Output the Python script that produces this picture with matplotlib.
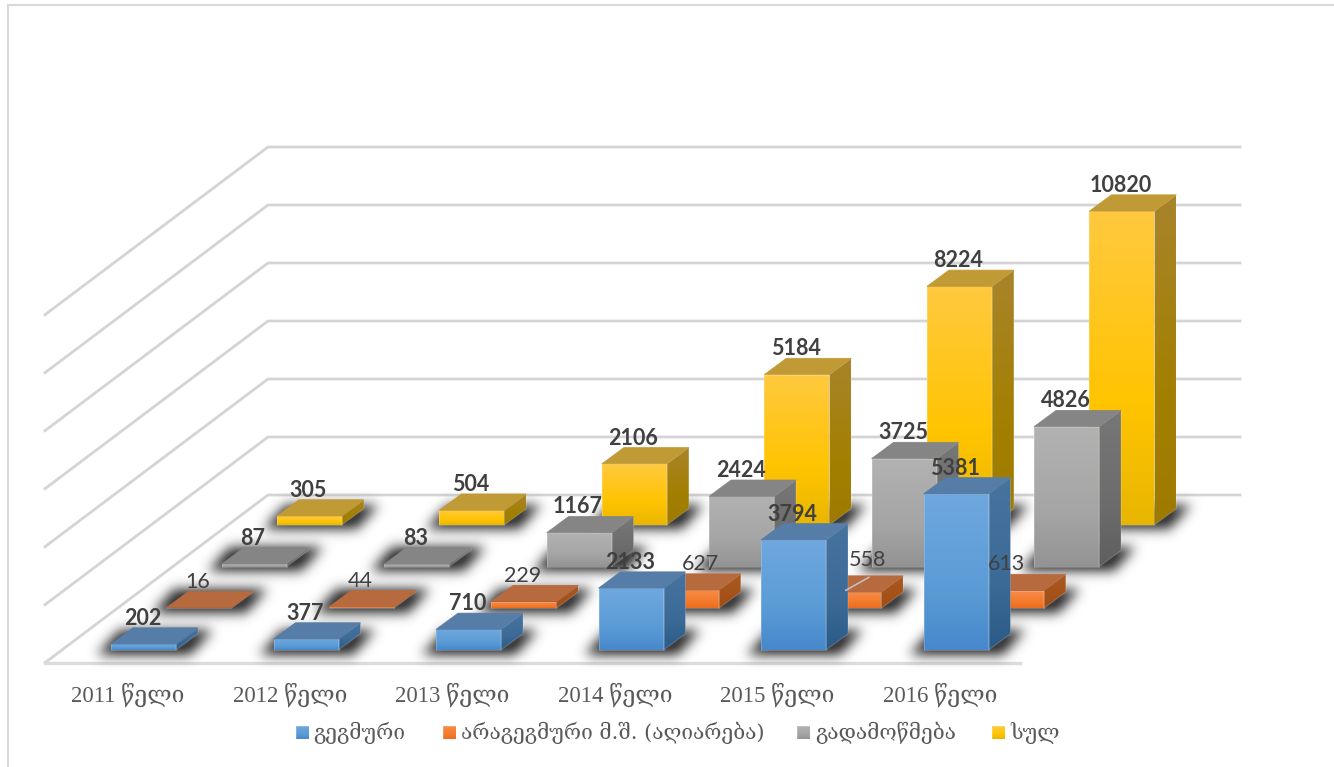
import numpy as np
import matplotlib
matplotlib.use("Agg")
import matplotlib.pyplot as plt
from matplotlib.colors import LinearSegmentedColormap
from matplotlib.patches import Polygon
from matplotlib.path import Path

years = ["2011 წელი", "2012 წელი", "2013 წელი", "2014 წელი", "2015 წელი", "2016 წელი"]
series_names = ["გეგმური", "არაგეგმური მ.შ. (აღიარება)", "გადამოწმება", "სულ"]
planned = [202, 377, 710, 2133, 3794, 5381]
unplanned = [16, 44, 229, 627, 558, 613]
checked = [87, 83, 1167, 2424, 3725, 4826]
total = [305, 504, 2106, 5184, 8224, 10820]
all_series = [planned, unplanned, checked, total]
grid_values = [0, 2000, 4000, 6000, 8000, 10000, 12000]

# layout of the oblique 3d view, in image pixels
W, H = 1334, 767
X0, Y0 = 111, 650
CAT_DX = 162.5
SER_DX, SER_DY = 55.3, -41.7
DEPTH_DX, DEPTH_DY = 22, -16.3
BAR_W = 65
SCALE = 0.029
BACK_LEFT = (268, 495)
BACK_RIGHT = 1240
FRONT_LEFT = (45, 662.7)
FRONT_RIGHT = 1020

front_cols = [["#6FA8DF", "#5B9BD5", "#4788CC"],
              ["#F68D4A", "#F47B2C", "#EC6C1E"],
              ["#B2B2B2", "#A5A5A5", "#939393"],
              ["#FFC93F", "#FFC400", "#E8B600"]]
side_cols = [["#47739F", "#3C6A97", "#2A5A87"],
             ["#A9591F", "#A4521A", "#A04D15"],
             ["#777777", "#6C6C6C", "#5E5E5E"],
             ["#A8842B", "#A37F00", "#9E7A00"]]
top_cols = ["#567CA8", "#B66A3E", "#858585", "#C09A35"]
legend_x = [296, 443, 797, 992]
legend_text_x = [313, 461, 815, 1010]

# labels that Excel moved away from the bar
label_nudge = {(1, 3): (15, 0), (1, 4): (20, -6), (1, 5): (-4, -1)}


def project(i, s, v, d=0.0, w=0.0):
    x = X0 + CAT_DX * i + SER_DX * s + DEPTH_DX * d + BAR_W * w
    y = Y0 + SER_DY * s + DEPTH_DY * d - v * SCALE
    return x, y


def gradient_poly(ax, pts, cols, z):
    pts = np.array(pts)
    cmap = LinearSegmentedColormap.from_list("g", [(0, cols[0]), (0.62, cols[1]), (1, cols[2])])
    arr = np.linspace(0, 1, 256).reshape(-1, 1)
    poly = Polygon(pts, closed=True, facecolor="none", edgecolor="#FFFFFF", alpha=0.2, lw=0.7, zorder=z + 0.1)
    ax.add_patch(poly)
    im = ax.imshow(arr, cmap=cmap, vmin=0, vmax=1, aspect="auto", origin="upper", zorder=z,
                   extent=(pts[:, 0].min(), pts[:, 0].max(), pts[:, 1].max(), pts[:, 1].min()))
    im.set_clip_path(poly)


def draw_bar(ax, i, s, v, z):
    front = [project(i, s, v), project(i, s, v, w=1), project(i, s, 0, w=1), project(i, s, 0)]
    side = [project(i, s, v, w=1), project(i, s, v, d=1, w=1), project(i, s, 0, d=1, w=1), project(i, s, 0, w=1)]
    top = [project(i, s, v), project(i, s, v, d=1), project(i, s, v, d=1, w=1), project(i, s, v, w=1)]
    gradient_poly(ax, front, front_cols[s], z)
    gradient_poly(ax, side, side_cols[s], z)
    ax.add_patch(Polygon(top, closed=True, facecolor=top_cols[s], edgecolor=top_cols[s], lw=0.5, zorder=z + 0.2))


def shadow_layer():
    yy, xx = np.mgrid[0:H, 0:W]
    mask = np.zeros((H, W))
    ex, ey = 14, 4
    for s in range(4):
        for i in range(len(years)):
            a = project(i, s, 0)
            b = project(i, s, 0, w=1)
            c = project(i, s, 0, d=1, w=1)
            d = project(i, s, 0, d=1)
            foot = [(a[0] - ex, a[1] + ey), (b[0] + ex, b[1] + ey), (c[0] + ex, c[1] - ey), (d[0] - ex, d[1] - ey)]
            path = Path(foot + [foot[0]])
            x0, x1 = int(a[0] - ex - 1), int(c[0] + ex + 2)
            y0, y1 = int(c[1] - ey - 1), int(a[1] + ey + 2)
            pts = np.column_stack([xx[y0:y1, x0:x1].ravel(), yy[y0:y1, x0:x1].ravel()])
            inside = path.contains_points(pts).reshape(y1 - y0, x1 - x0)
            mask[y0:y1, x0:x1][inside] = 1
    # gaussian blur via fft
    sigma = 6
    fy = np.fft.fftfreq(H)[:, None]
    fx = np.fft.rfftfreq(W)[None, :]
    kernel = np.exp(-2 * (np.pi * sigma) ** 2 * (fx ** 2 + fy ** 2))
    blurred = np.fft.irfft2(np.fft.rfft2(mask) * kernel, s=mask.shape)
    rgba = np.zeros((H, W, 4))
    rgba[..., :3] = 0.25
    rgba[..., 3] = np.clip(blurred * 1.15, 0, 1)
    return rgba


fig = plt.figure(figsize=(W / 100, H / 100), dpi=100, facecolor="white")
ax = fig.add_axes([0, 0, 1, 1])
ax.axis("off")

# frame
ax.plot([8, 8], [H, 4.5], color="#D9D9D9", lw=1.5, zorder=1)
ax.plot([8, W], [4.5, 4.5], color="#D9D9D9", lw=1.5, zorder=1)

# walls and floor
wall_dy = FRONT_LEFT[1] - BACK_LEFT[1]
for g in grid_values:
    yg = BACK_LEFT[1] - g * SCALE
    ax.plot([FRONT_LEFT[0], BACK_LEFT[0], BACK_RIGHT], [yg + wall_dy, yg, yg], color="#D4D4D4", lw=2, zorder=1,
            solid_joinstyle="miter")
ax.plot([FRONT_LEFT[0], FRONT_RIGHT], [FRONT_LEFT[1], FRONT_LEFT[1]], color="#DCDCDC", lw=2.4, zorder=1)

ax.imshow(shadow_layer(), extent=(0, W, H, 0), aspect="auto", origin="upper", zorder=2, interpolation="bilinear")

z = 3
for s in [3, 2, 1, 0]:
    for i, v in enumerate(all_series[s]):
        draw_bar(ax, i, s, v, z)
        z += 1

# data labels
for s, vals in enumerate(all_series):
    for i, v in enumerate(vals):
        lx, ly = project(i, s, v, d=1, w=0.5)
        lx = lx - DEPTH_DX - 1
        ly = ly - 9.5
        nx, ny = label_nudge.get((s, i), (0, 0))
        lx, ly = lx + nx, ly + ny
        ax.text(lx, ly, str(v), ha="center", va="center", fontsize=15.5, family="Lato",
                fontweight="normal" if s == 1 else "bold", color="#404040", zorder=200)
        if (s, i) == (1, 4):
            ax.plot([lx - 22, lx + 1], [ly + 30, ly + 17], color="#BFBFBF", lw=1.2, zorder=199)

# category labels
for i, name in enumerate(years):
    tx, _ = project(i, 0, 0, w=0.5)
    ax.text(tx - 16, 695, name, ha="center", va="center", fontsize=16.5,
            family=["Liberation Serif", "DejaVu Serif", "DejaVu Sans"], color="#595959", zorder=200)

# legend
for s, name in enumerate(series_names):
    sw = [(legend_x[s], 726), (legend_x[s] + 13, 726), (legend_x[s] + 13, 739), (legend_x[s], 739)]
    gradient_poly(ax, sw, front_cols[s], 200)
    ax.text(legend_text_x[s], 733, name, ha="left", va="center", fontsize=15,
            family=["DejaVu Serif", "DejaVu Sans"], color="#595959", zorder=200)

ax.set_xlim(0, W)
ax.set_ylim(H, 0)
fig.savefig("out.png", dpi=100, facecolor="white")
